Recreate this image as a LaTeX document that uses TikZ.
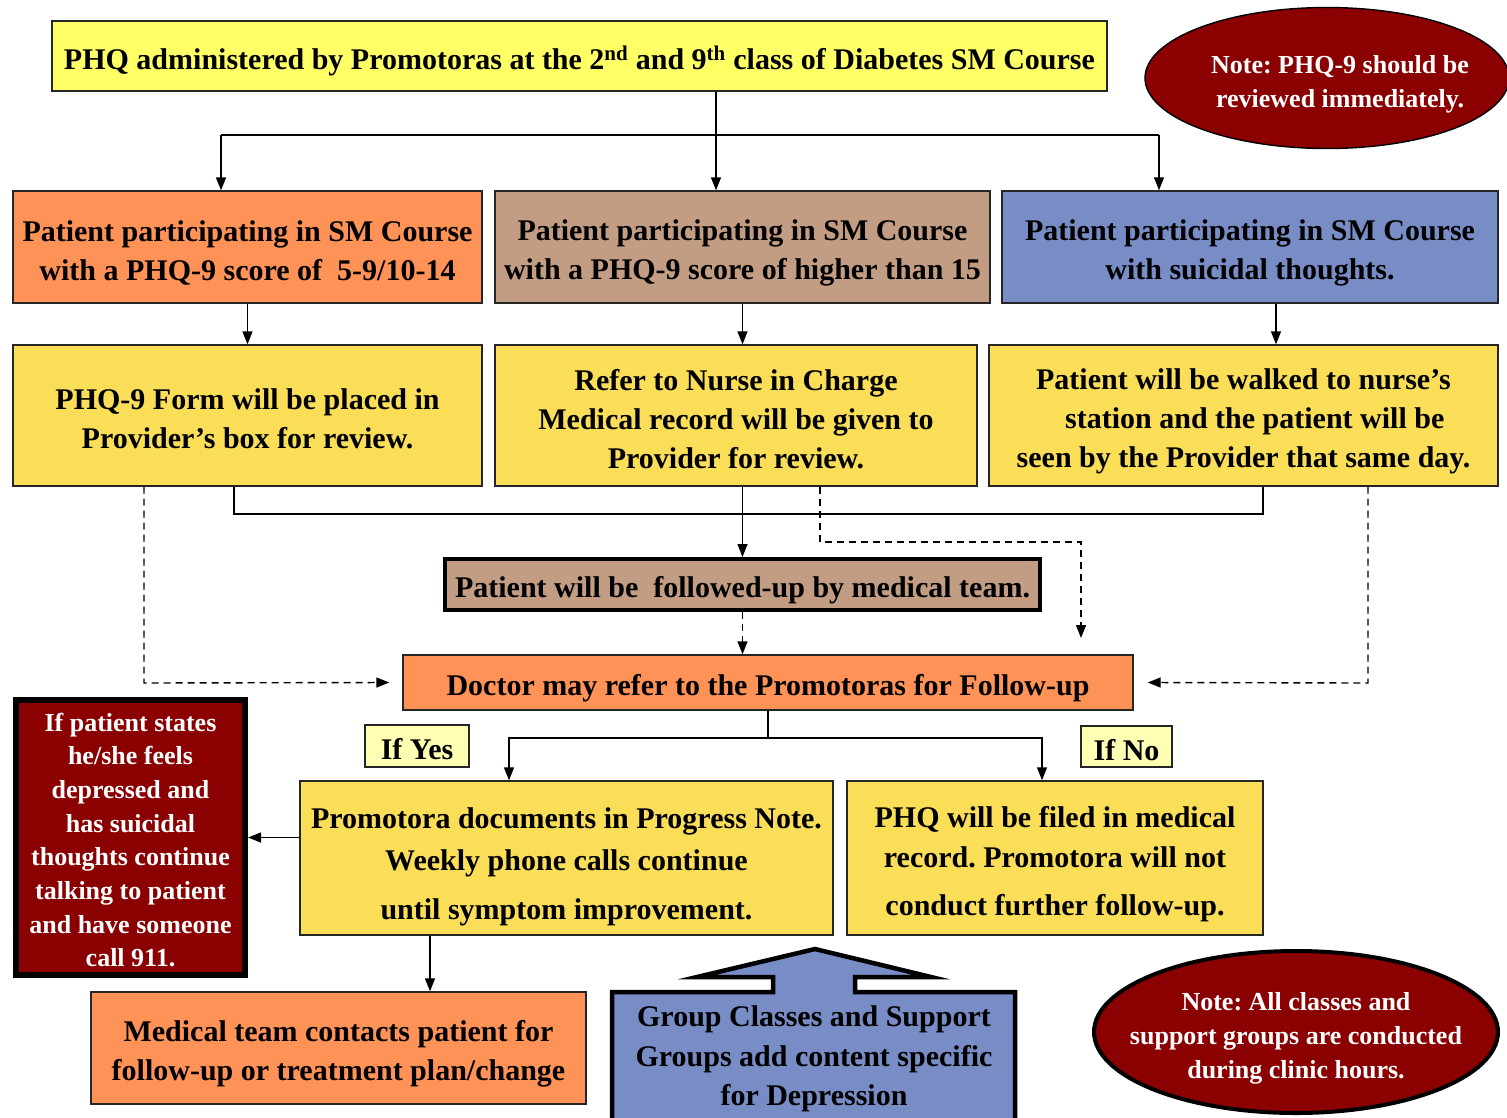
\documentclass[tikz,border=0pt]{standalone}
\usepackage{fontspec}
\setmainfont{Liberation Serif}
\usetikzlibrary{arrows.meta,shapes.geometric}
\definecolor{cTop}{RGB}{255,255,102}
\definecolor{cOrange}{RGB}{255,147,87}
\definecolor{cTan}{RGB}{194,157,131}
\definecolor{cBlue}{RGB}{120,140,198}
\definecolor{cYellow}{RGB}{250,222,88}
\definecolor{cRed}{RGB}{139,0,0}
\definecolor{cLabel}{RGB}{255,255,180}
\newcommand{\tS}{\rule{0pt}{33pt}}
\newcommand{\bS}{\rule[-6pt]{0pt}{6pt}}
\newcommand{\tSs}{\rule{0pt}{30pt}}
\newcommand{\bSs}{\rule[-5pt]{0pt}{5pt}}
\begin{document}
\frenchspacing
\begin{tikzpicture}[x=1pt,y=-1pt,
  box/.style={draw=black!85, line width=1.4pt, align=center, inner sep=0pt,
    font=\bfseries\fontsize{30}{39}\selectfont},
  smalltxt/.style={font=\bfseries\fontsize{26}{34}\selectfont},
  note/.style={ellipse, draw=black, fill=cRed, text=white, align=center, inner xsep=-40pt, inner ysep=0pt, smalltxt},
  arr/.style={-{Triangle[length=13pt,width=10pt]}, line width=1.4pt},
  dsh/.style={arr, dash pattern=on 7pt off 5pt},
  ln/.style={line width=1.4pt}]
\useasboundingbox (0,0) rectangle (1507,1117);
\fill[white] (0,0) rectangle (1507,1117);

% top
\node[box, fill=cTop, minimum width=1055pt, minimum height=70pt] (top) at (579.5,56)
  {\tS PHQ administered by Promotoras at the 2\textsuperscript{nd} and 9\textsuperscript{th} class of Diabetes SM Course\bS};
\node[note, line width=1.4pt, minimum width=364pt, minimum height=141pt] (note1) at (1327,78)
  {\tSs\hspace*{26pt}Note: PHQ-9 should be\\\hspace*{26pt}reviewed immediately.\bSs};

% row 1
\node[box, fill=cOrange, minimum width=469pt, minimum height=112pt] (A) at (247.5,247)
  {\tS Patient participating in SM Course\\with a PHQ-9 score of\ \ 5-9/10-14\bS};
\node[box, fill=cTan, minimum width=495pt, minimum height=112pt] (B) at (742.5,247)
  {\tS Patient participating in SM Course\\with a PHQ-9 score of higher than 15\bS};
\node[box, fill=cBlue, minimum width=496pt, minimum height=112pt] (C) at (1250,247)
  {\tS Patient participating in SM Course\\with suicidal thoughts.\bS};

% row 2
\node[box, fill=cYellow, minimum width=469pt, minimum height=141pt] (D) at (247.5,415.5)
  {\tS PHQ-9 Form will be placed in\\Provider’s box for review.\bS};
\node[box, fill=cYellow, minimum width=482pt, minimum height=141pt] (E) at (736,415.5)
  {\tS Refer to Nurse in Charge\\Medical record will be given to\\Provider for review.\bS};
\node[box, fill=cYellow, minimum width=509pt, minimum height=141pt] (F) at (1243.5,415.5)
  {\tS Patient will be walked to nurse’s\\\ \ \ station and the patient will be\\seen by the Provider that same day.\bS};

% follow-up
\node[box, fill=cTan, line width=4pt, draw=black, minimum width=595pt, minimum height=51pt] (G) at (742.5,584.5)
  {\tS Patient will be\ \ followed-up by medical team.\bS};
\node[box, fill=cOrange, minimum width=730pt, minimum height=55pt] (H) at (768,682.5)
  {\tS Doctor may refer to the Promotoras for Follow-up\bS};

% labels
\node[box, fill=cLabel, minimum width=104pt, minimum height=42pt] (yes) at (417,746) {\tS If Yes\bS};
\node[box, fill=cLabel, minimum width=91pt, minimum height=41pt] (no) at (1126.5,746.5) {\tS If No\bS};

% row 4
\node[box, fill=cYellow, minimum width=533pt, minimum height=154pt,
  font=\bfseries\fontsize{30}{42}\selectfont] (I) at (566.5,858)
  {\rule{0pt}{38pt}Promotora documents in Progress Note.\\Weekly phone calls continue\\[7pt]until symptom improvement.\bS};
\node[box, fill=cYellow, minimum width=416pt, minimum height=154pt,
  font=\bfseries\fontsize{30}{40}\selectfont] (J) at (1055,858)
  {\tS PHQ will be filed in medical\\record. Promotora will not\\[8pt]conduct further follow-up.\bS};
\node[box, fill=cRed, text=white, draw=black, line width=6pt, minimum width=229pt, minimum height=275pt,
  font=\bfseries\fontsize{26}{33.7}\selectfont] (K) at (130.5,837.5)
  {\rule{0pt}{28pt}If patient states\\he/she feels\\depressed and\\has suicidal\\thoughts continue\\talking to patient\\and have someone\\call 911.\bSs};
\node[box, fill=cOrange, minimum width=495pt, minimum height=112pt] (L) at (338.5,1048)
  {\tS Medical team contacts patient for\\follow-up or treatment plan/change\bS};

% callout arrow
\draw[line width=4.5pt, fill=cBlue, line join=miter]
  (612,1130) -- (612,992) -- (773,992) -- (773,977) -- (697,977) -- (815,949)
  -- (931,977) -- (855,977) -- (855,992) -- (1015,992) -- (1015,1130) -- cycle;
\node[align=center, font=\bfseries\fontsize{30}{39.5}\selectfont] (grp) at (814,1053)
  {\tS Group Classes and Support\\Groups add content specific\\for Depression\bS};

\node[note, line width=4pt, minimum width=404pt, minimum height=162pt] (note2) at (1296,1032)
  {\tSs Note: All classes and\\support groups are conducted\\during clinic hours.\bSs};

% connectors top
\coordinate (jL) at (221,135);
\coordinate (jM) at (716,135);
\coordinate (jR) at (1159,135);
\draw[arr] (top.south -| jM) -- (jM |- B.north);
\draw[ln] (jL) -- (jR);
\draw[arr] (jL) -- (jL |- A.north);
\draw[arr] (jR) -- (jR |- C.north);

\draw[arr] (A.south) -- (D.north);
\draw[arr] (B.south) -- (B.south |- E.north);
\draw[arr] ([xshift=26pt]C.south) -- ([xshift=26pt]C.south |- F.north);

% merge to G
\coordinate (mL) at (234,514);
\coordinate (mR) at (1263,514);
\draw[ln] (D.south -| mL) -- (mL) -- (mR) -- (mR |- F.south);
\draw[arr] (G.north |- E.south) -- (G.north);
\draw[dsh] (G.south) -- (G.south |- H.north);

% dashed
\coordinate (eL) at (820,542);
\coordinate (eEnd) at (1081,638);
\draw[dsh] (E.south -| eL) -- (eL) -| (eEnd);
\coordinate (dL) at (144,683);
\draw[dsh] (D.south -| dL) -- (dL) -- ([xshift=-13pt]H.west);
\coordinate (dR) at (1368,683);
\draw[dsh] (F.south -| dR) -- (dR) -- ([xshift=14pt]H.east);

% H fork
\coordinate (hL) at (509,738);
\coordinate (hR) at (1042,738);
\draw[arr] (H.south) |- (hL) -- (hL |- I.north);
\draw[arr] (H.south) |- (hR) -- (hR |- J.north);

% from I
\draw[arr] (I.west |- K.east) -- (K.east);
\coordinate (iT) at (430,960);
\draw[arr] (I.south -| iT) -- (iT |- L.north);
\end{tikzpicture}
\end{document}
